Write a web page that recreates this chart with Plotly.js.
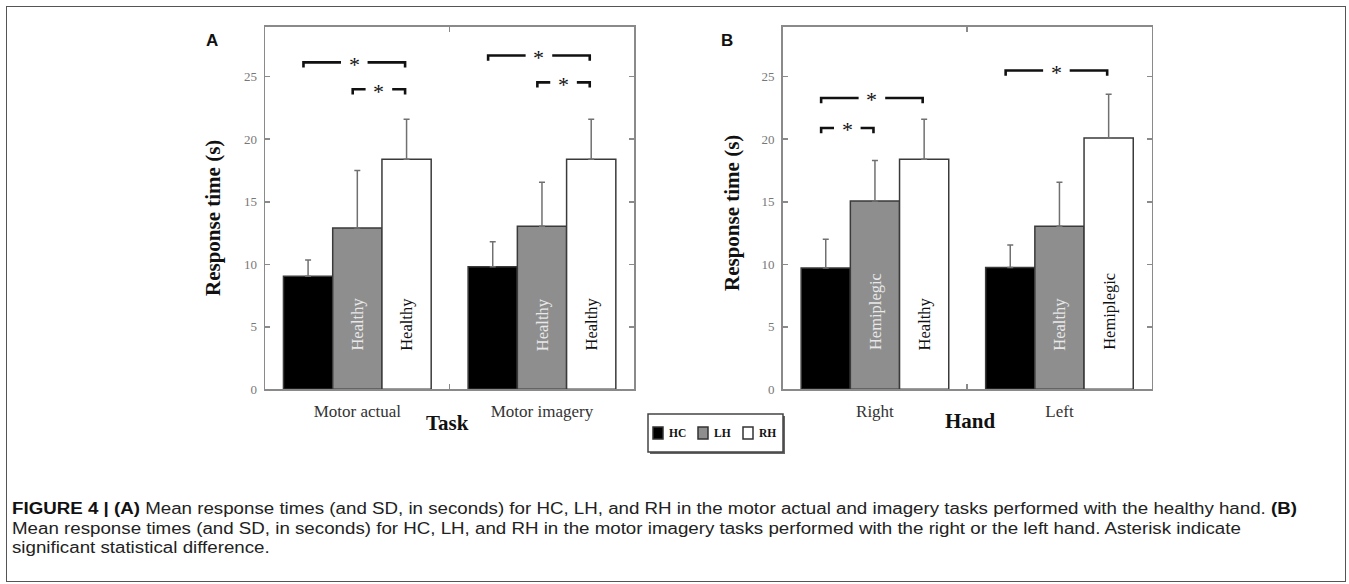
<!DOCTYPE html>
<html>
<head>
<meta charset="utf-8">
<script src="https://cdn.plot.ly/plotly-3.0.1.min.js"></script>
<style>
  html, body { margin:0; padding:0; background:#fff; }
  #wrap { position:relative; width:1349px; height:584px; overflow:hidden; }
  #chart { position:absolute; left:0; top:0; width:1349px; height:584px; }
  #frame { position:absolute; left:6px; top:6px; width:1338px; height:574px; border:1.5px solid #555; pointer-events:none; }
  #caption { position:absolute; left:12px; top:499px; font-family:"Liberation Sans", Arial, sans-serif; font-size:16px; line-height:19.5px; color:#222; white-space:nowrap; transform-origin:0 0; }
  #caption b { color:#111; }
</style>
</head>
<body>
<div id="wrap">
  <div id="chart"></div>
  <div id="frame"></div>
  <div id="caption">
    <span id="capline1"><b>FIGURE 4 | (A)</b> Mean response times (and SD, in seconds) for HC, LH, and RH in the motor actual and imagery tasks performed with the healthy hand. <b>(B)</b></span><br>
    Mean response times (and SD, in seconds) for HC, LH, and RH in the motor imagery tasks performed with the right or the left hand. Asterisk indicate<br>
    significant statistical difference.
  </div>
</div>
<script>
// ---------- data ----------
const groupNames = ['HC', 'LH', 'RH'];

const categoriesA = ['Motor actual', 'Motor imagery'];
const hcA   = [9.05, 9.8];
const hcASd = [1.3, 2.0];
const lhA   = [12.9, 13.05];
const lhASd = [4.6, 3.5];
const rhA   = [18.4, 18.4];
const rhASd = [3.2, 3.2];
const lhALabels = ['Healthy', 'Healthy'];
const rhALabels = ['Healthy', 'Healthy'];

const categoriesB = ['Right', 'Left'];
const hcB   = [9.7, 9.75];
const hcBSd = [2.3, 1.8];
const lhB   = [15.05, 13.05];
const lhBSd = [3.25, 3.5];
const rhB   = [18.4, 20.1];
const rhBSd = [3.2, 3.5];
const lhBLabels = ['Hemiplegic', 'Healthy'];
const rhBLabels = ['Healthy', 'Hemiplegic'];

// significance brackets: [category index, from group, to group, bracket level (s)]
const sigA = [[0, 0, 2, 26.15], [0, 1, 2, 24.0], [1, 0, 2, 26.7], [1, 1, 2, 24.55]];
const sigB = [[0, 0, 2, 23.3], [0, 0, 1, 20.9], [1, 0, 2, 25.5]];

const yTicks = [0, 5, 10, 15, 20, 25];

// ---------- styles ----------
const W = 1349, H = 584;
const px = v => v / W, py = v => 1 - v / H;
const fillColors = ['#000000', '#8e8e8e', '#ffffff'];
const serif = '"Liberation Serif", "Times New Roman", serif';
const barOffset = 0.8 / 3; // bar width in category units (bargap 0.2)

function barTrace(name, idx, cats, vals, sds, xa, ya) {
  return {
    type: 'bar', name: name, x: cats, y: vals,
    xaxis: xa, yaxis: ya, showlegend: false, legendgroup: name,
    marker: { color: fillColors[idx], line: { color: '#3a3a3a', width: 1.5 } },
    error_y: { type: 'data', array: sds, arrayminus: sds.map(() => 0), symmetric: false,
               color: '#707070', thickness: 1.5, width: 3 },
    hoverinfo: 'skip'
  };
}

const data = [
  barTrace(groupNames[0], 0, categoriesA, hcA, hcASd, 'x', 'y'),
  barTrace(groupNames[1], 1, categoriesA, lhA, lhASd, 'x', 'y'),
  barTrace(groupNames[2], 2, categoriesA, rhA, rhASd, 'x', 'y'),
  barTrace(groupNames[0], 0, categoriesB, hcB, hcBSd, 'x2', 'y2'),
  barTrace(groupNames[1], 1, categoriesB, lhB, lhBSd, 'x2', 'y2'),
  barTrace(groupNames[2], 2, categoriesB, rhB, rhBSd, 'x2', 'y2')
];

const annotations = [];
const shapes = [];

// bar labels inside bars
function addBarLabels(labels, groupIdx, xref, yref, color) {
  labels.forEach((t, i) => {
    annotations.push({
      xref: xref, yref: yref, x: i + (groupIdx - 1) * barOffset,
      y: t.length > 8 ? 6.25 : 5.2, text: t, textangle: -90, showarrow: false,
      xanchor: 'center', yanchor: 'middle',
      font: { family: serif, size: 16.5, color: color }
    });
  });
}
addBarLabels(lhALabels, 1, 'x', 'y', '#e8e8e8');
addBarLabels(rhALabels, 2, 'x', 'y', '#111');
addBarLabels(lhBLabels, 1, 'x2', 'y2', '#e8e8e8');
addBarLabels(rhBLabels, 2, 'x2', 'y2', '#111');

// brackets
function addBrackets(list, xref, yref) {
  list.forEach(([cat, g0, g1, lvl]) => {
    const x0 = cat + (g0 - 1) * barOffset - 0.025;
    const x1 = cat + (g1 - 1) * barOffset - 0.008;
    const xm = (x0 + x1) / 2;
    const gap = 0.072;
    const drop = 0.42;
    const line = { color: '#111', width: 2.6 };
    shapes.push({ type: 'path', xref: xref, yref: yref, line: line,
      path: `M${x0},${lvl - drop} L${x0},${lvl} L${xm - gap},${lvl}` });
    shapes.push({ type: 'path', xref: xref, yref: yref, line: line,
      path: `M${xm + gap},${lvl} L${x1},${lvl} L${x1},${lvl - drop}` });
    annotations.push({ xref: xref, yref: yref, x: xm, y: lvl, text: '*', showarrow: false,
      xanchor: 'center', yanchor: 'middle', yshift: -2,
      font: { family: serif, size: 22, color: '#111' } });
  });
}
addBrackets(sigA, 'x', 'y');
addBrackets(sigB, 'x2', 'y2');

// axis titles and panel letters
function paperText(x, y, text, size, family, extra) {
  annotations.push(Object.assign({ xref: 'paper', yref: 'paper', x: px(x), y: py(y), text: text,
    showarrow: false, xanchor: 'center', yanchor: 'middle', font: { family: family, size: size, color: '#111' } }, extra || {}));
}
paperText(447, 423, '<b>Task</b>', 21, serif);
paperText(970, 421, '<b>Hand</b>', 21, serif);
paperText(213, 218, '<b>Response time (s)</b>', 21, serif, { textangle: -90 });
paperText(732, 213, '<b>Response time (s)</b>', 21, serif, { textangle: -90 });
paperText(212, 40, '<b>A</b>', 17, '"Liberation Sans", Arial, sans-serif');
paperText(727, 40, '<b>B</b>', 17, '"Liberation Sans", Arial, sans-serif');

// legend box (drawn)
shapes.push({ type: 'rect', xref: 'paper', yref: 'paper', x0: px(650), x1: px(785), y0: py(454), y1: py(416),
  line: { width: 0 }, fillcolor: '#666' });
shapes.push({ type: 'rect', xref: 'paper', yref: 'paper', x0: px(648), x1: px(783), y0: py(452), y1: py(414),
  line: { width: 1.5, color: '#444' }, fillcolor: '#fff' });
const legendX = [653, 698, 743];
groupNames.forEach((g, i) => {
  const x = legendX[i];
  shapes.push({ type: 'rect', xref: 'paper', yref: 'paper', x0: px(x), x1: px(x + 10), y0: py(439), y1: py(427),
    line: { width: 1.5, color: '#333' }, fillcolor: fillColors[i] });
  annotations.push({ xref: 'paper', yref: 'paper', x: px(x + 14), y: py(433), text: '<b>' + g + '</b>',
    showarrow: false, xanchor: 'left', yanchor: 'middle', font: { family: serif, size: 11.5, color: '#111' } });
});

function xAxis(domain, anchor) {
  return {
    domain: domain, anchor: anchor, type: 'category',
    showline: true, linecolor: '#8a8a8a', linewidth: 1.5, mirror: 'ticks',
    ticks: 'inside', tickson: 'boundaries', ticklen: 5, tickcolor: '#8a8a8a', tickwidth: 1.5,
    showgrid: false, zeroline: false, fixedrange: true,
    tickfont: { family: serif, size: 17, color: '#333' }, ticklabelstandoff: 6
  };
}
function yAxis(domain, anchor) {
  return {
    domain: domain, anchor: anchor, range: [0, 29], tickvals: yTicks,
    showline: true, linecolor: '#8a8a8a', linewidth: 1.5, mirror: 'ticks',
    ticks: 'inside', ticklen: 5, tickcolor: '#8a8a8a', tickwidth: 1.5,
    showgrid: false, zeroline: false, fixedrange: true,
    tickfont: { family: serif, size: 13, color: '#777' }, ticklabelstandoff: 4
  };
}

const yDom = [py(389.3), py(26.7)];
const layout = {
  width: W, height: H,
  margin: { l: 0, r: 0, t: 0, b: 0 },
  paper_bgcolor: '#fff', plot_bgcolor: '#fff',
  barmode: 'group', bargap: 0.2, bargroupgap: 0,
  xaxis: xAxis([px(265), px(634.3)], 'y'),
  yaxis: yAxis(yDom, 'x'),
  xaxis2: xAxis([px(782.7), px(1151.7)], 'y2'),
  yaxis2: yAxis(yDom, 'x2'),
  showlegend: false,
  annotations: annotations,
  shapes: shapes
};

Plotly.newPlot('chart', data, layout, { staticPlot: true, displayModeBar: false });

// stretch caption to the reference line width
const l1 = document.getElementById('capline1');
const wNow = l1.getBoundingClientRect().width;
const s = 1285 / wNow;
document.getElementById('caption').style.transform = 'scaleX(' + s + ')';
</script>
</body>
</html>
